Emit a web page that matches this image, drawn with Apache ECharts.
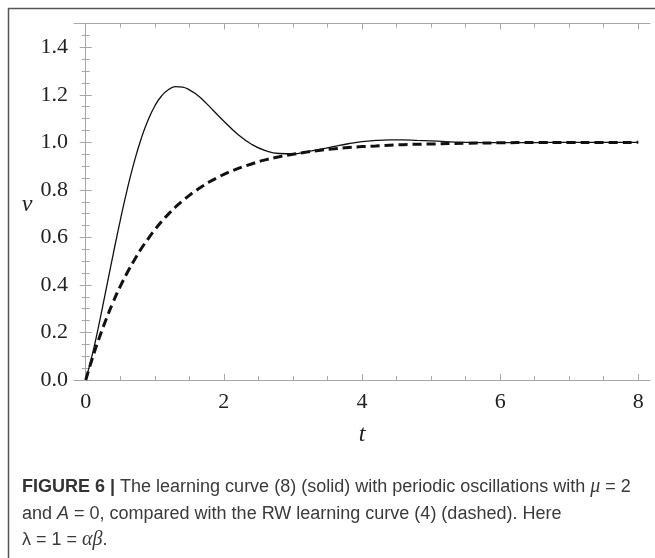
<!DOCTYPE html>
<html>
<head>
<meta charset="utf-8">
<script src="https://cdn.jsdelivr.net/npm/echarts@6/dist/echarts.min.js"></script>
<style>
  html, body { margin: 0; padding: 0; background: #fff; }
  #chart { width: 655px; height: 558px; }
</style>
</head>
<body>
<div id="chart"></div>
<script>
// time points read along the t axis
const tValues = [
  0, 0.1, 0.2, 0.3, 0.4, 0.5, 0.6, 0.7, 0.8, 0.9,
  1.0, 1.1, 1.2, 1.3, 1.4, 1.5, 1.6, 1.7, 1.8, 1.9,
  2.0, 2.2, 2.4, 2.6, 2.8, 3.0, 3.2, 3.4, 3.6, 3.8,
  4.0, 4.2, 4.4, 4.6, 4.8, 5.0, 5.5, 6.0, 6.5, 7.0, 7.5, 8.0
]
// solid: learning curve with periodic oscillations
const solidValues = [
  0, 0.113, 0.246, 0.389, 0.533, 0.672, 0.801, 0.916, 1.013, 1.092,
  1.153, 1.196, 1.222, 1.234, 1.232, 1.221, 1.202, 1.177, 1.148, 1.118,
  1.089, 1.034, 0.992, 0.965, 0.953, 0.952, 0.960, 0.971, 0.983, 0.994,
  1.003, 1.008, 1.010, 1.010, 1.008, 1.006, 1.000, 0.999, 0.999, 1.000, 1.000, 1.000
]
// dashed: RW learning curve
const dashedValues = [
  0, 0.095, 0.181, 0.259, 0.330, 0.394, 0.451, 0.503, 0.551, 0.593,
  0.632, 0.667, 0.699, 0.728, 0.753, 0.777, 0.798, 0.817, 0.835, 0.850,
  0.865, 0.889, 0.909, 0.926, 0.939, 0.950, 0.959, 0.967, 0.973, 0.978,
  0.982, 0.985, 0.988, 0.990, 0.992, 0.993, 0.996, 0.998, 0.999, 0.999, 0.999, 1.000
]
const xMajorTicks = [0, 2, 4, 6, 8]
const xMinorTicks = [0.5, 1, 1.5, 2.5, 3, 3.5, 4.5, 5, 5.5, 6.5, 7, 7.5]

const frameColor = '#a6a6a6'
const serif = 'Liberation Serif'
const sans = 'Liberation Sans'
const captionColor = '#3a3a3a'

const chart = echarts.init(document.getElementById('chart'))

const xBase = {
  type: 'value',
  min: -0.17,
  max: 8.17,
  splitLine: { show: false }
}

const xAxes = [
  Object.assign({}, xBase, {
    position: 'bottom',
    axisLine: { show: true, lineStyle: { color: frameColor, width: 1 } },
    axisTick: { show: true, inside: true, length: 6, customValues: xMajorTicks, lineStyle: { color: frameColor } },
    axisLabel: { show: true, customValues: xMajorTicks, margin: 11, fontFamily: serif, fontSize: 22, color: '#222' }
  }),
  Object.assign({}, xBase, {
    position: 'bottom',
    axisLine: { show: false },
    axisTick: { show: true, inside: true, length: 4, customValues: xMinorTicks, lineStyle: { color: frameColor } },
    axisLabel: { show: false }
  }),
  Object.assign({}, xBase, {
    position: 'top',
    axisLine: { show: true, lineStyle: { color: frameColor, width: 1 } },
    axisTick: { show: true, inside: true, length: 6, customValues: xMajorTicks, lineStyle: { color: frameColor } },
    axisLabel: { show: false }
  }),
  Object.assign({}, xBase, {
    position: 'top',
    axisLine: { show: false },
    axisTick: { show: true, inside: true, length: 4, customValues: xMinorTicks, lineStyle: { color: frameColor } },
    axisLabel: { show: false }
  })
]

const yBase = {
  type: 'value',
  min: 0,
  max: 1.5,
  interval: 0.2,
  splitLine: { show: false },
  axisLine: { show: true, lineStyle: { color: frameColor, width: 1 } },
  axisTick: { show: true, inside: true, length: 6, lineStyle: { color: frameColor } },
  minorTick: { show: true, splitNumber: 4, length: 4, lineStyle: { color: frameColor } }
}

const yAxes = [
  Object.assign({}, yBase, {
    position: 'left',
    axisLabel: {
      show: true, margin: 6, fontFamily: serif, fontSize: 22, color: '#222',
      formatter: v => v.toFixed(1),
      showMaxLabel: false
    }
  }),
  Object.assign({}, yBase, {
    position: 'right',
    axisLabel: { show: false }
  })
]

chart.setOption({
  animation: false,
  backgroundColor: '#fff',
  grid: { left: 74, right: 5, top: 23.5, bottom: 178 },
  xAxis: xAxes,
  yAxis: yAxes,
  series: [
    {
      name: 'solid',
      type: 'line',
      xAxisIndex: 0,
      yAxisIndex: 0,
      data: tValues.map((t, i) => [t, solidValues[i]]),
      showSymbol: false,
      smooth: true,
      lineStyle: { color: '#111', width: 1.3 }
    },
    {
      name: 'dashed',
      type: 'line',
      xAxisIndex: 0,
      yAxisIndex: 0,
      data: tValues.map((t, i) => [t, dashedValues[i]]),
      showSymbol: false,
      smooth: true,
      lineStyle: { color: '#111', width: 3, type: [9, 5] }
    }
  ],
  graphic: [
    // outer figure border (top and left)
    { type: 'line', shape: { x1: 8, y1: 8.5, x2: 655, y2: 8.5 }, style: { stroke: '#555', lineWidth: 1.5 } },
    { type: 'line', shape: { x1: 8.5, y1: 8, x2: 8.5, y2: 558 }, style: { stroke: '#555', lineWidth: 1.5 } },
    // axis names
    { type: 'text', x: 27, y: 205, style: { text: 'v', font: 'italic 24px ' + serif, fill: '#222', align: 'center', verticalAlign: 'middle' } },
    { type: 'text', x: 362, y: 435, style: { text: 't', font: 'italic 24px ' + serif, fill: '#222', align: 'center', verticalAlign: 'middle' } },
    // caption
    {
      type: 'text', x: 22, y: 487,
      style: {
        text: '{b|FIGURE 6 |} The learning curve (8) (solid) with periodic oscillations with {i|μ} = 2',
        font: '18px ' + sans, fill: captionColor, verticalAlign: 'middle',
        rich: {
          b: { fontFamily: sans, fontSize: 18, fontWeight: 'bold', fill: '#333' },
          i: { fontFamily: serif, fontSize: 20, fontStyle: 'italic', fill: captionColor }
        }
      }
    },
    {
      type: 'text', x: 22, y: 514,
      style: {
        text: 'and {i|A} = 0, compared with the RW learning curve (4) (dashed). Here',
        font: '18px ' + sans, fill: captionColor, verticalAlign: 'middle',
        rich: {
          i: { fontFamily: sans, fontSize: 18, fontStyle: 'italic', fill: captionColor }
        }
      }
    },
    {
      type: 'text', x: 22, y: 540,
      style: {
        text: 'λ = 1 = {i|αβ}.',
        font: '18px ' + sans, fill: captionColor, verticalAlign: 'middle',
        rich: {
          i: { fontFamily: serif, fontSize: 20, fontStyle: 'italic', fill: captionColor }
        }
      }
    }
  ]
})
</script>
</body>
</html>
